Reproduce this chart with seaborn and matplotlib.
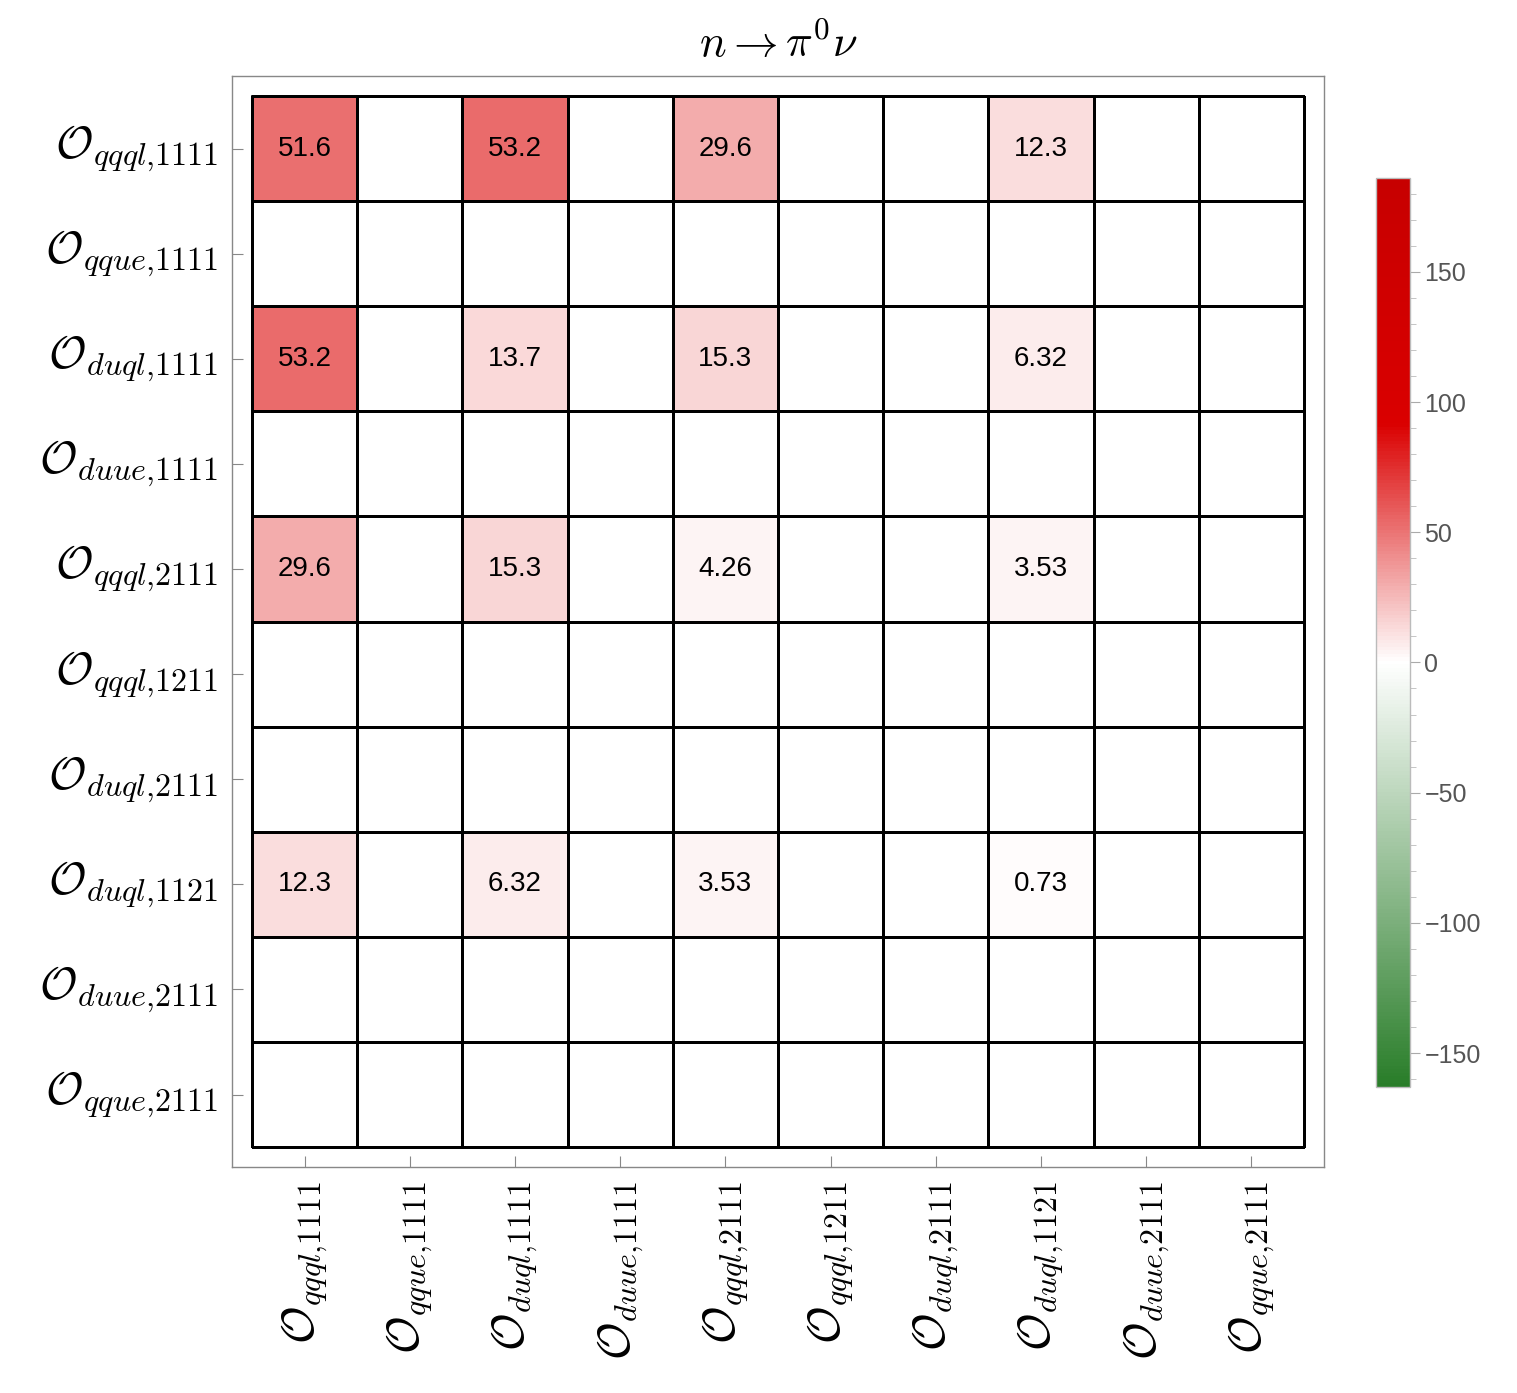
import numpy as np
import pandas as pd
import matplotlib
matplotlib.use('Agg')
import matplotlib.pyplot as plt
import seaborn as sns
from matplotlib.colors import LinearSegmentedColormap
from matplotlib.ticker import MultipleLocator

operators = [r'$\mathcal{O}_{qqql{,}1111}$', r'$\mathcal{O}_{qque{,}1111}$', r'$\mathcal{O}_{duql{,}1111}$',
             r'$\mathcal{O}_{duue{,}1111}$', r'$\mathcal{O}_{qqql{,}2111}$', r'$\mathcal{O}_{qqql{,}1211}$',
             r'$\mathcal{O}_{duql{,}2111}$', r'$\mathcal{O}_{duql{,}1121}$', r'$\mathcal{O}_{duue{,}2111}$',
             r'$\mathcal{O}_{qque{,}2111}$']
nan = np.nan
row_qqql_1111 = [51.6, nan, 53.2, nan, 29.6, nan, nan, 12.3, nan, nan]
row_duql_1111 = [53.2, nan, 13.7, nan, 15.3, nan, nan, 6.32, nan, nan]
row_qqql_2111 = [29.6, nan, 15.3, nan, 4.26, nan, nan, 3.53, nan, nan]
row_duql_1121 = [12.3, nan, 6.32, nan, 3.53, nan, nan, 0.73, nan, nan]
empty = [nan] * 10
vmin, vmax = -163, 186

rows = [row_qqql_1111, empty, row_duql_1111, empty, row_qqql_2111,
        empty, empty, row_duql_1121, empty, empty]
df = pd.DataFrame(rows, index=operators, columns=operators)
labels = df.map(lambda v: '' if np.isnan(v) else f'{v:g}')

cmap = LinearSegmentedColormap.from_list('gwr', [
    (0.0, (0.16, 0.49, 0.16)),
    ((0 - vmin) / (vmax - vmin), (1, 1, 1)),
    ((92 - vmin) / (vmax - vmin), (0.855, 0.0, 0.0)),
    (1.0, (0.78, 0.0, 0.0)),
])

plt.rcParams['mathtext.fontset'] = 'cm'
fig = plt.figure(figsize=(15.17, 13.93), dpi=100)
ax = fig.add_axes([0.1529, 0.1622, 0.7199, 0.7832])
cax = fig.add_axes([0.907, 0.2197, 0.0224, 0.6525])

sns.heatmap(df.fillna(0), ax=ax, cbar_ax=cax, cmap=cmap, vmin=vmin, vmax=vmax,
            annot=labels, fmt='', linewidths=1.0, linecolor='black',
            annot_kws={'fontsize': 20, 'family': 'Liberation Sans', 'color': 'black'})

pad = 0.19
ax.set_xlim(-pad, 10 + pad)
ax.set_ylim(10 + pad, -pad)
ax.add_patch(plt.Rectangle((0, 0), 10, 10, fill=False, edgecolor='black', lw=1.2))
for s in ax.spines.values():
    s.set_visible(True)
    s.set_color('#888888')
    s.set_linewidth(1)
ax.set_xticks(np.arange(10) + 0.5)
ax.set_yticks(np.arange(10) + 0.5)
ax.set_xticklabels(operators, rotation=90, fontsize=33)
ax.set_yticklabels(operators, rotation=0, fontsize=33)
ax.tick_params(direction='in', length=8, color='#888888', pad=10)
ax.set_xlabel('')
ax.set_ylabel('')
ax.set_title(r'$n \rightarrow \pi^0\nu$', fontsize=32, pad=14)

cbar = ax.collections[0].colorbar
cbar.set_ticks([-150, -100, -50, 0, 50, 100, 150])
cbar.ax.yaxis.set_minor_locator(MultipleLocator(10))
cbar.ax.set_yticklabels(['\u2212150', '\u2212100', '\u221250', '0', '50', '100', '150'])
cbar.ax.tick_params(which='major', length=7, color='#aaaaaa', labelsize=18, labelcolor='#555555')
cbar.ax.tick_params(which='minor', length=4, color='#bbbbbb')
for lab in cbar.ax.get_yticklabels():
    lab.set_family('Liberation Sans')
cbar.outline.set_edgecolor('#bbbbbb')
cbar.outline.set_linewidth(1)

fig.savefig('out.png', dpi=100)
